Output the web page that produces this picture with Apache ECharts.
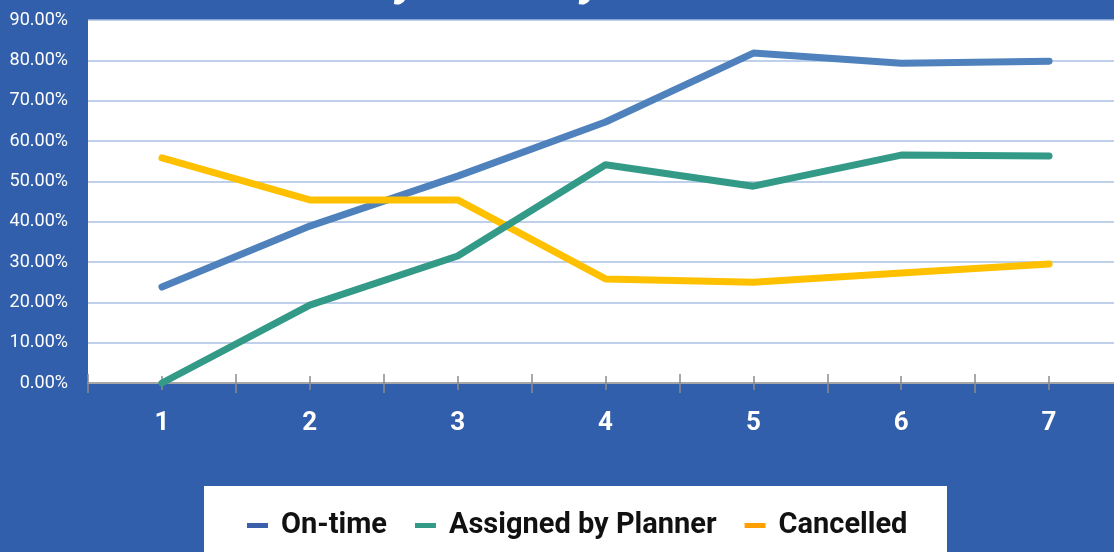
<!DOCTYPE html>
<html>
<head>
    <meta charset="utf-8">
    <title>Weekly Delivery Performance</title>
    <script src="https://cdn.jsdelivr.net/npm/echarts@6/dist/echarts.min.js"></script>
    <style>
        html, body { margin: 0; padding: 0; background: #325fab; }
        #main { width: 1114px; height: 552px; }
    </style>
</head>
<body>
    <div id="main"></div>
    <script type="text/javascript">
        // categories and series, values in percent
        var days = ['1', '2', '3', '4', '5', '6', '7'];
        var onTime = [23.8, 38.9, 51.3, 64.7, 81.8, 79.3, 79.8];
        var assigned = [0, 19.3, 31.5, 54.1, 48.8, 56.5, 56.3];
        var cancelled = [55.8, 45.4, 45.4, 25.8, 25.0, 27.3, 29.5];

        var myChart = echarts.init(document.getElementById('main'));

        var lineStyle = function (color) {
            return { color: color, width: 7, cap: 'round', join: 'round' };
        };

        // extra axes only to draw the tick marks that cross the axis line
        var tickAxis = function (offset, len, align) {
            return {
                type: 'category',
                data: days,
                position: 'bottom',
                offset: offset,
                axisLine: { show: false },
                axisLabel: { show: false },
                axisTick: { show: true, length: len, alignWithLabel: align, lineStyle: { color: '#8c8c8c', width: 1.5 } }
            };
        };

        var option = {
            backgroundColor: '#325fab',
            textStyle: { fontFamily: 'Roboto' },
            title: {
                text: 'Weekly Delivery Performance',
                left: 260,
                top: -48,
                textStyle: { color: '#fff', fontSize: 49, fontWeight: 'bold', fontStyle: 'italic', fontFamily: 'Roboto' }
            },
            graphic: [{
                type: 'rect',
                shape: { x: 204, y: 486, width: 743, height: 80 },
                style: { fill: '#fff' },
                z: 0
            }],
            legend: {
                left: 247,
                top: 511,
                padding: 0,
                itemWidth: 21,
                itemHeight: 5,
                itemGap: 28,
                icon: 'rect',
                textStyle: { color: '#111', fontSize: 29, fontWeight: 'bold', fontFamily: 'Roboto', padding: [0, 0, 0, 8] },
                data: [
                    { name: 'On-time', itemStyle: { color: '#3a5fab' } },
                    { name: 'Assigned by Planner', itemStyle: { color: '#339a88' } },
                    { name: 'Cancelled', itemStyle: { color: '#ffa000' } }
                ]
            },
            grid: {
                left: 88,
                width: 1035,
                top: 20,
                bottom: 169,
                outerBoundsMode: 'none',
                show: true,
                backgroundColor: '#fff',
                borderWidth: 0
            },
            xAxis: [{
                type: 'category',
                data: days,
                boundaryGap: true,
                axisLine: { lineStyle: { color: '#a6a6a6', width: 2 } },
                axisTick: { show: false },
                axisLabel: { color: '#fff', fontSize: 26, fontWeight: 'bold', margin: 27 }
            },
                tickAxis(-9, 19, false),
                tickAxis(-7, 14, true)
            ],
            yAxis: {
                type: 'value',
                min: 0,
                max: 90,
                interval: 10,
                axisLine: { show: false },
                axisTick: { show: false },
                splitLine: { lineStyle: { color: '#a9c1e3', width: 1.5 } },
                axisLabel: {
                    color: '#fff',
                    fontSize: 18,
                    margin: 20,
                    formatter: function (v) { return v.toFixed(2) + '%'; }
                }
            },
            series: [{
                name: 'On-time',
                type: 'line',
                data: onTime,
                showSymbol: false,
                lineStyle: lineStyle('#4f81bd'),
                itemStyle: { color: '#4f81bd' },
                z: 2
            }, {
                name: 'Assigned by Planner',
                type: 'line',
                data: assigned,
                showSymbol: false,
                lineStyle: lineStyle('#339a88'),
                itemStyle: { color: '#339a88' },
                z: 4
            }, {
                name: 'Cancelled',
                type: 'line',
                data: cancelled,
                showSymbol: false,
                lineStyle: lineStyle('#ffc000'),
                itemStyle: { color: '#ffc000' },
                z: 3
            }]
        };

        myChart.setOption(option);
    </script>
</body>
</html>
